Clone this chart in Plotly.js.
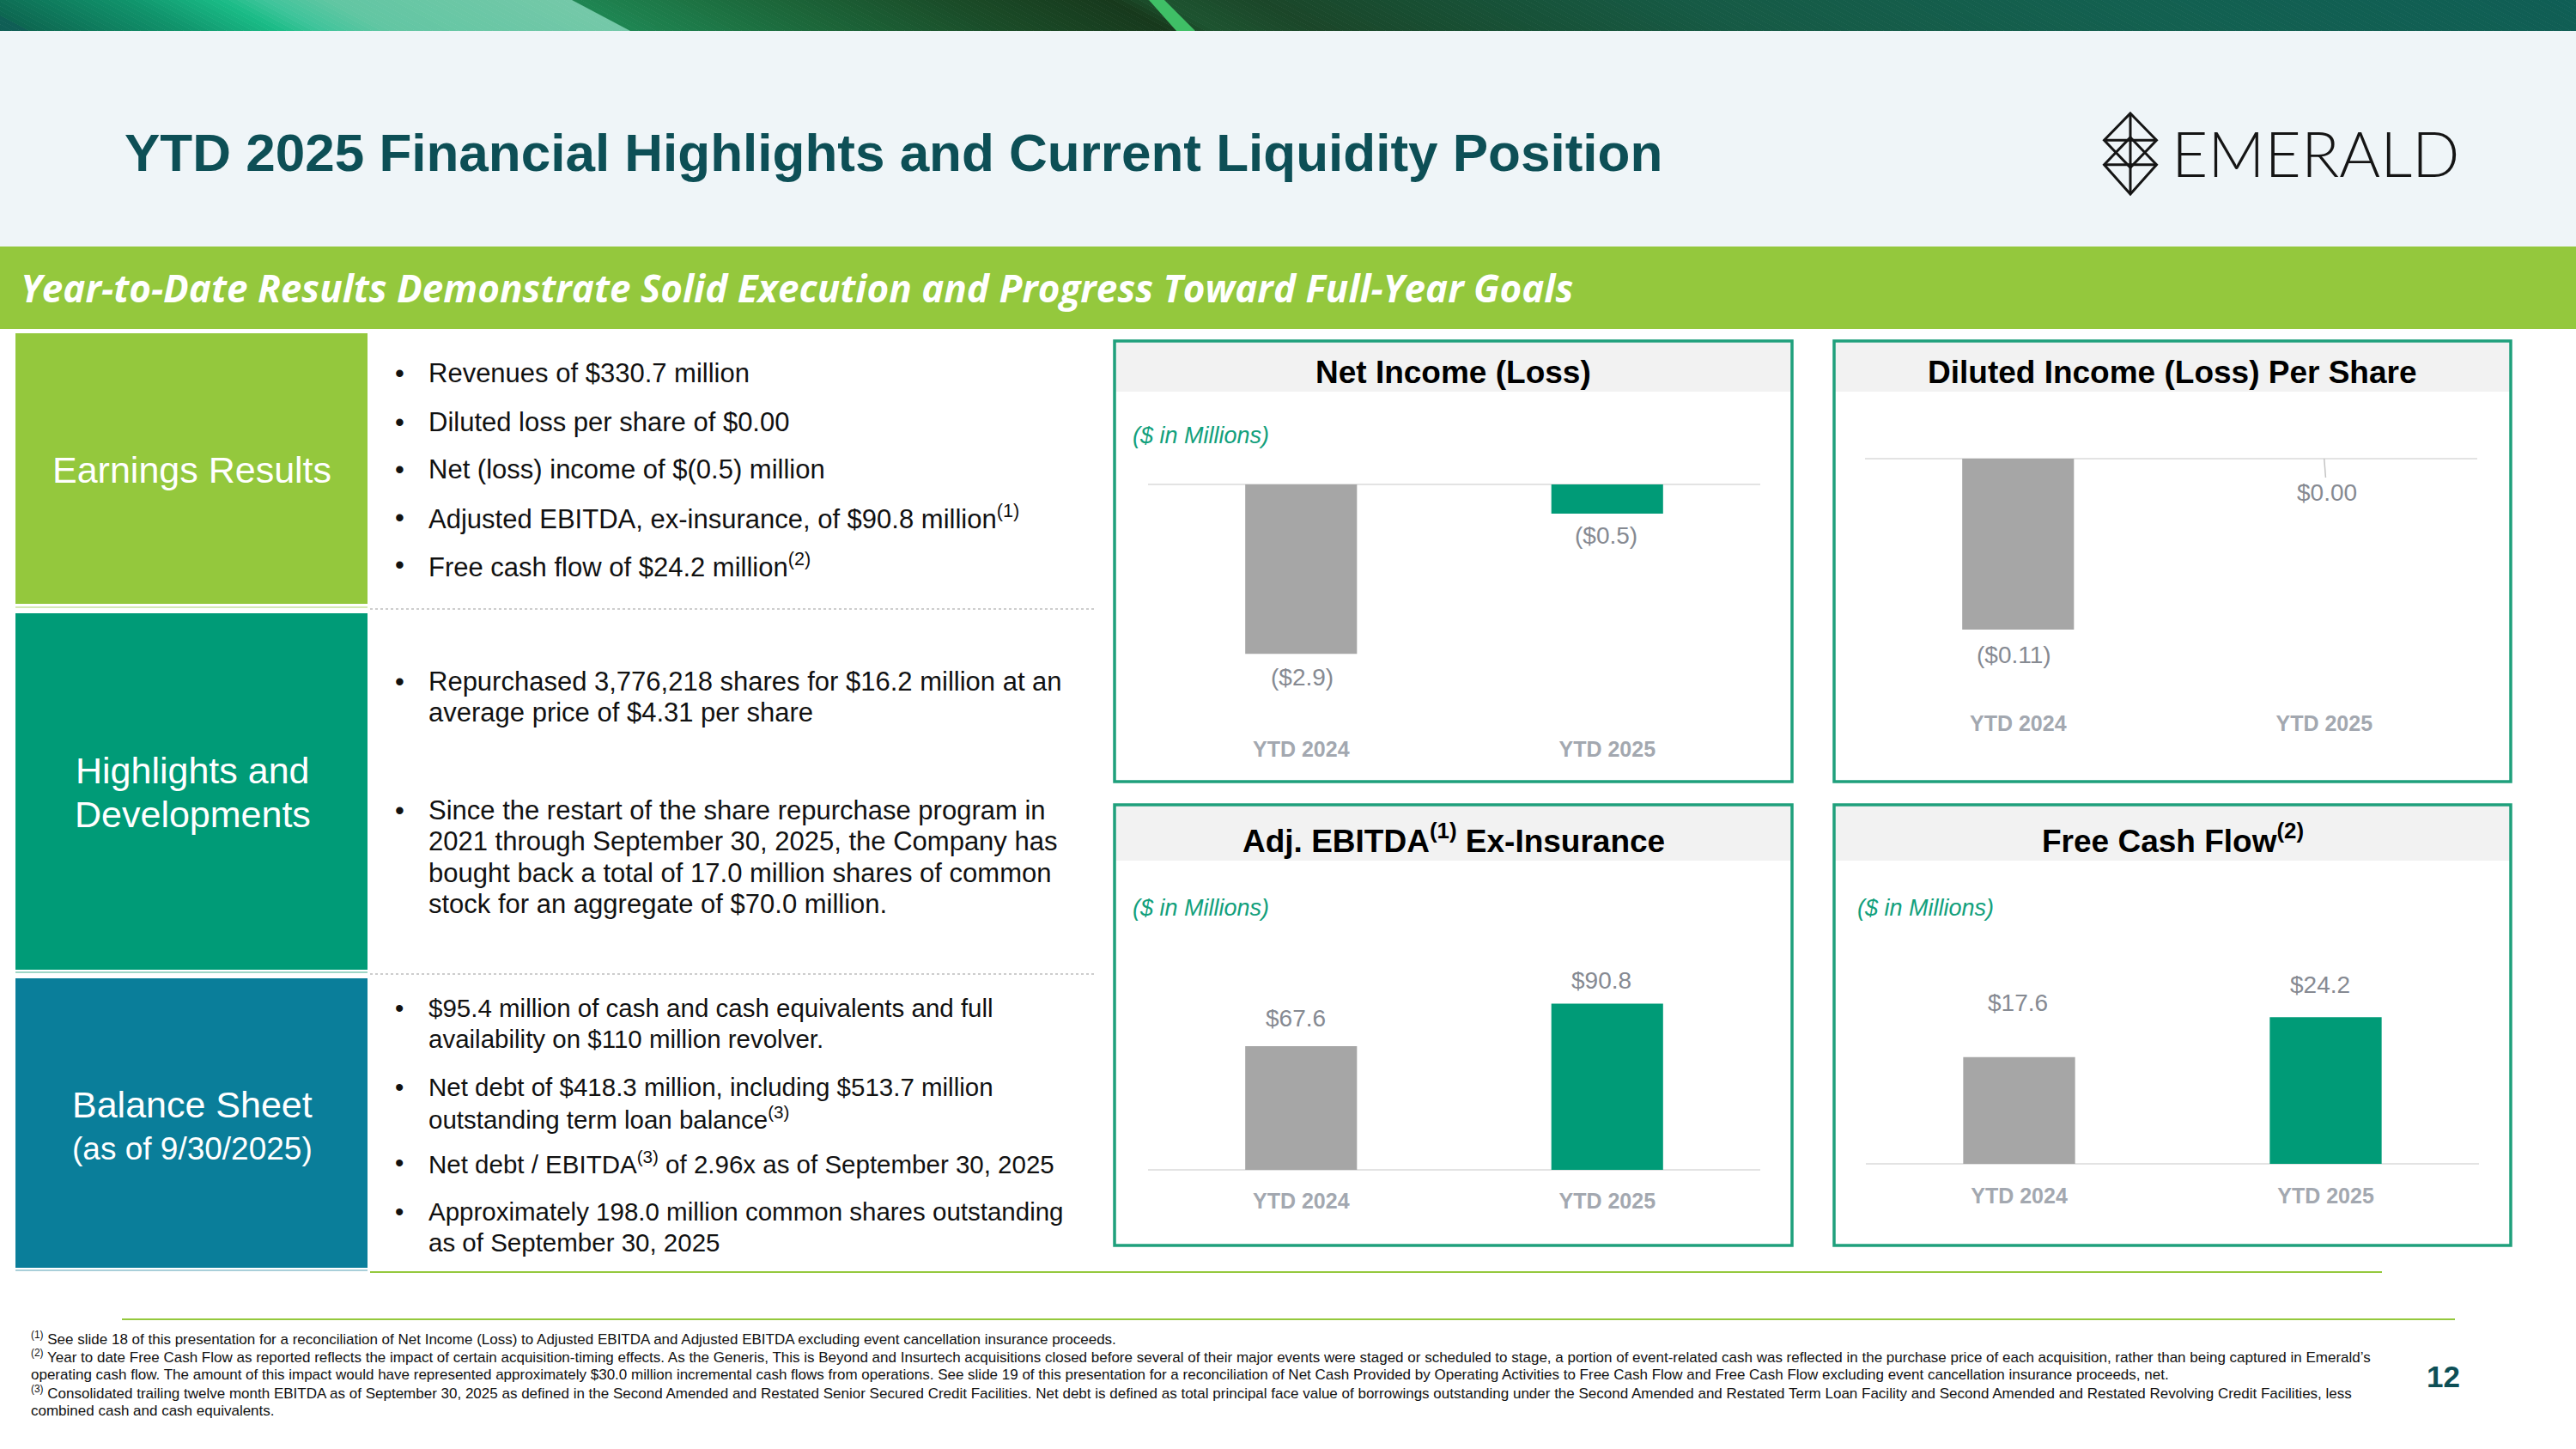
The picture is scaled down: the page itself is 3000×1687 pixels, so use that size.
<!DOCTYPE html>
<html>
<head>
<meta charset="utf-8">
<script src="https://cdn.plot.ly/plotly-3.0.1.min.js"></script>
<style>
  html, body { margin: 0; padding: 0; background: #ffffff; }
  #slide { width: 3000px; height: 1687px; }
</style>
</head>
<body>
<div id="slide"></div>
<script>
// ---------------- DATA ----------------
const CATEGORIES = ['YTD 2024', 'YTD 2025'];
const NET_INCOME = [-2.9, -0.5];          // $ in millions
const DILUTED_EPS = [-0.11, 0.00];        // $ per share
const ADJ_EBITDA = [67.6, 90.8];          // $ in millions
const FREE_CASH_FLOW = [17.6, 24.2];      // $ in millions

const CHART_TITLES = [
  'Net Income (Loss)',
  'Diluted Income (Loss) Per Share',
  'Adj. EBITDA<sup>(1)</sup> Ex-Insurance',
  'Free Cash Flow<sup>(2)</sup>'
];
const UNIT_NOTE = '($ in Millions)';

const EARNINGS_BULLETS = [
  ['Revenues of $330.7 million'],
  ['Diluted loss per share of $0.00'],
  ['Net (loss) income of $(0.5) million'],
  ['Adjusted EBITDA, ex-insurance, of $90.8 million<sup>(1)</sup>'],
  ['Free cash flow of $24.2 million<sup>(2)</sup>']
];
const HIGHLIGHT_BULLETS = [
  ['Repurchased 3,776,218 shares for $16.2 million at an', 'average price of $4.31 per share'],
  ['Since the restart of the share repurchase program in', '2021 through September 30, 2025, the Company has',
   'bought back a total of 17.0 million shares of common', 'stock for an aggregate of $70.0 million.']
];
const BALANCE_BULLETS = [
  ['$95.4 million of cash and cash equivalents and full', 'availability on $110 million revolver.'],
  ['Net debt of $418.3 million, including $513.7 million', 'outstanding term loan balance<sup>(3)</sup>'],
  ['Net debt / EBITDA<sup>(3)</sup> of 2.96x as of September 30, 2025'],
  ['Approximately 198.0 million common shares outstanding', 'as of September 30, 2025']
];
const FOOTNOTES = [
  '<sup>(1)</sup> See slide 18 of this presentation for a reconciliation of Net Income (Loss) to Adjusted EBITDA and Adjusted EBITDA excluding event cancellation insurance proceeds.',
  '<sup>(2)</sup> Year to date Free Cash Flow as reported reflects the impact of certain acquisition-timing effects. As the Generis, This is Beyond and Insurtech acquisitions closed before several of their major events were staged or scheduled to stage, a portion of event-related cash was reflected in the purchase price of each acquisition, rather than being captured in Emerald\u2019s',
  'operating cash flow. The amount of this impact would have represented approximately $30.0 million incremental cash flows from operations. See slide 19 of this presentation for a reconciliation of Net Cash Provided by Operating Activities to Free Cash Flow and Free Cash Flow excluding event cancellation insurance proceeds, net.',
  '<sup>(3)</sup> Consolidated trailing twelve month EBITDA as of September 30, 2025 as defined in the Second Amended and Restated Senior Secured Credit Facilities. Net debt is defined as total principal face value of borrowings outstanding under the Second Amended and Restated Term Loan Facility and Second Amended and Restated Revolving Credit Facilities, less',
  'combined cash and cash equivalents.'
];

// ---------------- STYLE / LAYOUT ----------------
const W = 3000, H = 1687;
const ARIAL = 'Liberation Sans, Arial, Helvetica, sans-serif';
const BAR_COLORS = ['#a6a6a6', '#009b77'];
const TEAL = '#009b77';
const LIME = '#94c83d';
const BLUE = '#0a7e9a';
const PANEL_LINE = '#1fa07c';
const LABEL_GREY = '#868a92';
const TICK_GREY = '#a3a8b0';

const X = v => v / W;
const Y = v => 1 - v / H;

const shapes = [];
const annotations = [];

function rect(x0, y0, x1, y1, fill, line) {
  shapes.push({type: 'rect', xref: 'paper', yref: 'paper', layer: 'below',
    x0: X(x0), x1: X(x1), y0: Y(y1), y1: Y(y0),
    fillcolor: fill || 'rgba(0,0,0,0)', line: line || {width: 0}});
}
function pathPx(pts, close, fill, line) {
  let d = pts.map((p, i) => (i ? 'L' : 'M') + X(p[0]).toFixed(6) + ',' + Y(p[1]).toFixed(6)).join(' ');
  if (close) d += ' Z';
  shapes.push({type: 'path', xref: 'paper', yref: 'paper', layer: 'below', path: d,
    fillcolor: fill || 'rgba(0,0,0,0)', line: line || {width: 0}});
}
function hline(x0, x1, y, color, width, dash) {
  shapes.push({type: 'line', xref: 'paper', yref: 'paper', layer: 'below',
    x0: X(x0), x1: X(x1), y0: Y(y), y1: Y(y), line: {color: color, width: width, dash: dash || 'solid'}});
}
function text(t, x, y, opt) {
  opt = opt || {};
  annotations.push({xref: 'paper', yref: 'paper', x: X(x), y: Y(y), text: t, showarrow: false,
    xanchor: opt.xanchor || 'left', yanchor: 'middle', align: opt.align || 'left',
    font: {family: opt.family || ARIAL, size: opt.size || 30, color: opt.color || '#111111',
           weight: opt.weight || 'normal', style: opt.style || 'normal'}});
}

// --- header gradient strip
function hex2rgb(h) { return [1, 3, 5].map(i => parseInt(h.substr(i, 2), 16)); }
function mix(a, b, t) { const A = hex2rgb(a), B = hex2rgb(b);
  return 'rgb(' + A.map((v, i) => Math.round(v + (B[i] - v) * t)).join(',') + ')'; }
const HEADER_STOPS = [
  [0, '#0d6650'], [180, '#10936b'], [290, '#19bb86'], [340, '#3ec49a'], [420, '#62c6a3'],
  [695, '#74c8a8'], [705, '#1e8552'], [900, '#1c6a3c'], [1150, '#1a4a27'], [1330, '#17391c'],
  [1380, '#1d5430'], [1500, '#1b4629'], [1650, '#184d31'], [2000, '#165a45'], [2500, '#136050'], [3060, '#0f5e55']
];
function headerColor(x) {
  for (let i = 0; i < HEADER_STOPS.length - 1; i++) {
    const a = HEADER_STOPS[i], b = HEADER_STOPS[i + 1];
    if (x >= a[0] && x <= b[0]) return mix(a[1], b[1], (x - a[0]) / (b[0] - a[0]));
  }
  return HEADER_STOPS[HEADER_STOPS.length - 1][1];
}
const STEP = 10, SKEW = 34;
for (let c = -40; c < 3060; c += STEP) {
  const col = headerColor(c + STEP / 2);
  pathPx([[c - SKEW, 0], [c + STEP + 1 - SKEW, 0], [c + STEP + 1 + SKEW, 36], [c + SKEW, 36]], true, col);
}
pathPx([[1338, 0], [1356, 0], [1392, 36], [1370, 36]], true, '#3fbf66');

// --- backgrounds
rect(0, 36, W, 287, '#eff5f8');
rect(0, 287, W, 383, LIME);

// --- left column boxes
rect(18, 388, 428, 703, LIME);
rect(18, 714, 428, 1129, TEAL);
rect(18, 1139, 428, 1476, BLUE);
hline(18, 428, 707, '#d4e9b3', 2);
hline(18, 428, 1132, '#9fd6c6', 2);
hline(18, 428, 1479, '#a9cfd9', 2);
hline(431, 1277, 709, '#bdbdbd', 1.5, 'dot');
hline(431, 1277, 1134, '#bdbdbd', 1.5, 'dot');
hline(431, 2774, 1481, LIME, 2);
hline(142, 2859, 1536, LIME, 2);

// --- chart panels
const PANELS = [
  {x0: 1298, x1: 2087, y0: 397, y1: 910, band: 456, titleY: 434},
  {x0: 2136, x1: 2924, y0: 397, y1: 910, band: 456, titleY: 434},
  {x0: 1298, x1: 2087, y0: 937, y1: 1450, band: 1002, titleY: 976},
  {x0: 2136, x1: 2924, y0: 937, y1: 1450, band: 1002, titleY: 976}
];
PANELS.forEach((p, i) => {
  rect(p.x0, p.y0, p.x1, p.band, '#f2f2f2');
  rect(p.x0, p.y0, p.x1, p.y1, null, {color: PANEL_LINE, width: 3.5});
  text(CHART_TITLES[i], (p.x0 + p.x1) / 2, p.titleY, {xanchor: 'center', size: 37, weight: 'bold', color: '#000000'});
});
text(UNIT_NOTE, 1317, 507, {size: 27, style: 'italic', color: '#12a07c'});
text(UNIT_NOTE, 1317, 1057, {size: 27, style: 'italic', color: '#12a07c'});
text(UNIT_NOTE, 2161, 1057, {size: 27, style: 'italic', color: '#12a07c'});

// --- logo
const LOGO = {stroke: {color: '#151515', width: 3}};
pathPx([[2481, 132], [2511.5, 163.3], [2481, 195], [2450.5, 163.3]], true, null, LOGO.stroke);
pathPx([[2481, 160], [2511.5, 191.7], [2481, 226], [2450.5, 191.7]], true, null, LOGO.stroke);
pathPx([[2450.5, 163.3], [2511.5, 163.3]], false, null, LOGO.stroke);
pathPx([[2450.5, 191.7], [2511.5, 191.7]], false, null, LOGO.stroke);
pathPx([[2481, 132], [2481, 226]], false, null, LOGO.stroke);
text('EMERALD', 2527, 178, {family: 'Lato, Noto Sans, sans-serif', size: 73, weight: 300, color: '#151515'});

// --- header texts
text('YTD 2025 Financial Highlights and Current Liquidity Position', 143, 178, {size: 62, weight: 'bold', color: '#0d4f56'});
text('Year-to-Date Results Demonstrate Solid Execution and Progress Toward Full-Year Goals', 22, 335,
     {family: 'Open Sans, sans-serif', size: 44, weight: 'bold', style: 'italic', color: '#ffffff'});

// --- left labels
text('Earnings Results', 223, 547, {xanchor: 'center', size: 43, color: '#ffffff'});
text('Highlights and', 224, 897, {xanchor: 'center', size: 43, color: '#ffffff'});
text('Developments', 224, 948, {xanchor: 'center', size: 43, color: '#ffffff'});
text('Balance Sheet', 224, 1286, {xanchor: 'center', size: 43, color: '#ffffff'});
text('(as of 9/30/2025)', 224, 1337, {xanchor: 'center', size: 37, color: '#ffffff'});

// --- bullets
const LINE_GAP = 36.5;
function bullets(list, starts, size) {
  list.forEach((lines, i) => {
    text('\u2022', 458, starts[i], {size: size});
    lines.forEach((ln, j) => text(ln, 497, starts[i] + j * LINE_GAP, {size: size}));
  });
}
bullets(EARNINGS_BULLETS, [435, 491, 547, 602, 658], 31);
bullets(HIGHLIGHT_BULLETS, [793, 943], 31);
bullets(BALANCE_BULLETS, [1173, 1265, 1353, 1410], 29.5);

// --- footnotes & page number
FOOTNOTES.forEach((f, i) => text(f, 34, 1558 + i * 21, {size: 17}));
text('12', 2845, 1602, {xanchor: 'center', size: 35, weight: 'bold', color: '#0d4f56'});

// ---------------- CHARTS ----------------
function money(v, d) { const s = '$' + Math.abs(v).toFixed(d); return v < 0 ? '(' + s + ')' : s; }

const CHARTS = [
  {values: NET_INCOME, dec: 1, xd: [1337, 2050], top: 470, zero: 564, bottom: 855, scale: 68,
   labelDy: [-27, -25], labelDx: [1, -1]},
  {values: DILUTED_EPS, dec: 2, xd: [2172, 2885], top: 470, zero: 534, bottom: 825, scale: 1809,
   labelDy: [-30, null], labelDx: [-5, 2], arrow: [null, {ax: 3, ay: 39}]},
  {values: ADJ_EBITDA, dec: 1, xd: [1337, 2050], top: 1015, zero: 1362, bottom: 1381, scale: 2.131,
   labelDy: [32, 27], labelDx: [-6, -7]},
  {values: FREE_CASH_FLOW, dec: 1, xd: [2173, 2887], top: 1015, zero: 1355, bottom: 1375, scale: 7.06,
   labelDy: [63, 38], labelDx: [-2, -7]}
];

const traces = [];
const layoutAxes = {};
CHARTS.forEach((c, k) => {
  const s = k === 0 ? '' : String(k + 1);
  traces.push({type: 'bar', x: CATEGORIES, y: c.values, xaxis: 'x' + s, yaxis: 'y' + s,
    width: 0.365, marker: {color: BAR_COLORS, line: {width: 0}}, hoverinfo: 'skip', cliponaxis: false});
  layoutAxes['xaxis' + s] = {domain: [X(c.xd[0]), X(c.xd[1])], anchor: 'y' + s, type: 'category',
    range: [-0.5, 1.5], showgrid: false, zeroline: false, showline: false, ticks: '', fixedrange: true,
    tickfont: {family: ARIAL, size: 25, color: TICK_GREY, weight: 'bold'}};
  layoutAxes['yaxis' + s] = {domain: [Y(c.bottom), Y(c.top)], anchor: 'x' + s,
    range: [-(c.bottom - c.zero) / c.scale, (c.zero - c.top) / c.scale],
    showgrid: false, showticklabels: false, ticks: '', showline: false, fixedrange: true,
    zeroline: true, zerolinecolor: '#e3e3e3', zerolinewidth: 2.5};
  c.values.forEach((v, i) => {
    const a = {xref: 'x' + s, yref: 'y' + s, x: CATEGORIES[i], y: v, text: money(v, c.dec),
      xanchor: 'center', yanchor: 'middle', xshift: c.labelDx[i] || 0,
      font: {family: ARIAL, size: 28, color: LABEL_GREY}, showarrow: false};
    if (c.arrow && c.arrow[i]) {
      Object.assign(a, {showarrow: true, arrowhead: 0, arrowwidth: 1.5, arrowcolor: '#c4c4c4',
        ax: c.arrow[i].ax, ay: c.arrow[i].ay, standoff: 0, xshift: 0});
    } else {
      a.yshift = c.labelDy[i];
    }
    annotations.push(a);
  });
});

const layout = Object.assign({
  width: W, height: H, margin: {l: 0, r: 0, t: 0, b: 0, pad: 0},
  paper_bgcolor: '#ffffff', plot_bgcolor: 'rgba(0,0,0,0)', showlegend: false,
  bargap: 0.6, shapes: shapes, annotations: annotations
}, layoutAxes);

Plotly.newPlot('slide', traces, layout, {displayModeBar: false, staticPlot: true});
</script>
</body>
</html>
